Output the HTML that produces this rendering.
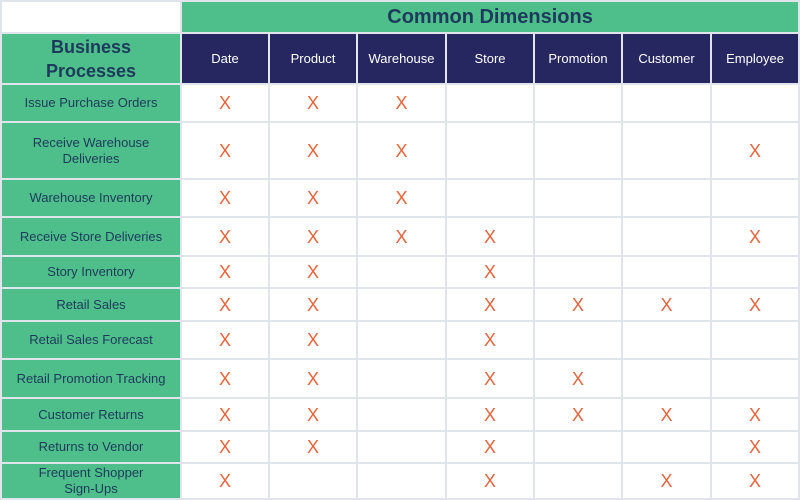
<!DOCTYPE html>
<html><head><style>
html,body{margin:0;padding:0;background:#dfe5ea;}
table{border-collapse:separate;border-spacing:2px;background:#dfe5ea;table-layout:fixed;width:800px;font-family:"Liberation Sans",Arial,sans-serif;}
td{padding:0;text-align:center;vertical-align:middle;background:#fff;font-size:13px;line-height:16px;overflow:hidden;}
td.p{background:#4ebf8b;color:#1d3a5c;}
td.h{background:#262760;color:#fff;}
td.x{color:#e8643b;font-size:18px;}
.t{font-size:20px;font-weight:bold;color:#1c2d59;}
.bp{font-size:18px;line-height:24px;font-weight:bold;color:#1c2d59;}
</style></head><body>
<table>
<colgroup><col style="width:178px"><col style="width:86px"><col style="width:86px"><col style="width:87px"><col style="width:86px"><col style="width:86px"><col style="width:87px"><col style="width:86px"></colgroup>
<tr style="height:30px"><td></td><td class="p t" colspan="7">Common Dimensions</td></tr>
<tr style="height:49px"><td class="p bp">Business<br>Processes</td><td class="h">Date</td><td class="h">Product</td><td class="h">Warehouse</td><td class="h">Store</td><td class="h">Promotion</td><td class="h">Customer</td><td class="h">Employee</td></tr>
<tr style="height:36px"><td class="p">Issue Purchase Orders</td><td class="x">X</td><td class="x">X</td><td class="x">X</td><td></td><td></td><td></td><td></td></tr>
<tr style="height:55px"><td class="p">Receive Warehouse<br>Deliveries</td><td class="x">X</td><td class="x">X</td><td class="x">X</td><td></td><td></td><td></td><td class="x">X</td></tr>
<tr style="height:36px"><td class="p">Warehouse Inventory</td><td class="x">X</td><td class="x">X</td><td class="x">X</td><td></td><td></td><td></td><td></td></tr>
<tr style="height:37px"><td class="p">Receive Store Deliveries</td><td class="x">X</td><td class="x">X</td><td class="x">X</td><td class="x">X</td><td></td><td></td><td class="x">X</td></tr>
<tr style="height:30px"><td class="p">Story Inventory</td><td class="x">X</td><td class="x">X</td><td></td><td class="x">X</td><td></td><td></td><td></td></tr>
<tr style="height:31px"><td class="p">Retail Sales</td><td class="x">X</td><td class="x">X</td><td></td><td class="x">X</td><td class="x">X</td><td class="x">X</td><td class="x">X</td></tr>
<tr style="height:36px"><td class="p">Retail Sales Forecast</td><td class="x">X</td><td class="x">X</td><td></td><td class="x">X</td><td></td><td></td><td></td></tr>
<tr style="height:37px"><td class="p">Retail Promotion Tracking</td><td class="x">X</td><td class="x">X</td><td></td><td class="x">X</td><td class="x">X</td><td></td><td></td></tr>
<tr style="height:31px"><td class="p">Customer Returns</td><td class="x">X</td><td class="x">X</td><td></td><td class="x">X</td><td class="x">X</td><td class="x">X</td><td class="x">X</td></tr>
<tr style="height:30px"><td class="p">Returns to Vendor</td><td class="x">X</td><td class="x">X</td><td></td><td class="x">X</td><td></td><td></td><td class="x">X</td></tr>
<tr style="height:34px"><td class="p">Frequent Shopper<br>Sign-Ups</td><td class="x">X</td><td></td><td></td><td class="x">X</td><td></td><td class="x">X</td><td class="x">X</td></tr>
</table>
</body></html>
